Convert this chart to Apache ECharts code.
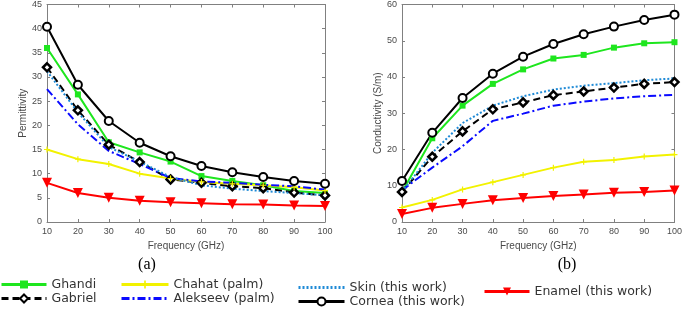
<!DOCTYPE html>
<html>
<head>
<meta charset="utf-8">
<title>Permittivity / Conductivity</title>
<script src="https://cdn.jsdelivr.net/npm/echarts@6/dist/echarts.min.js"></script>
<style>
    html, body { margin: 0; padding: 0; background: #fff; }
    #main { width: 685px; height: 309px; }
</style>
</head>
<body>
<div id="main"></div>
<script>
var freq = [10, 20, 30, 40, 50, 60, 70, 80, 90, 100];
var names = ['Ghandi', 'Gabriel', 'Chahat (palm)', 'Alekseev (palm)', 'Skin (this work)', 'Cornea (this work)', 'Enamel (this work)'];

// (a) permittivity
var permGhandi = [36.0, 26.4, 16.5, 14.4, 12.5, 9.5, 8.5, 7.6, 6.4, 6.0];
var permGabriel = [32.0, 23.1, 16.0, 12.4, 8.8, 8.1, 7.4, 7.0, 6.1, 5.5];
var permChahat = [15.0, 13.0, 12.0, 10.0, 9.0, 8.3, 7.9, 7.6, 7.2, 6.5];
var permAlekseev = [27.5, 20.2, 14.7, 12.0, 9.1, 8.4, 8.1, 7.7, 7.4, 6.7];
var permSkin = [31.2, 22.7, 15.5, 12.5, 9.3, 7.6, 6.9, 6.4, 6.0, 5.5];
var permCornea = [40.4, 28.4, 20.9, 16.4, 13.6, 11.6, 10.3, 9.3, 8.5, 7.9];
var permEnamel = [8.1, 6.0, 5.0, 4.4, 4.1, 3.9, 3.65, 3.6, 3.4, 3.3];

// (b) conductivity
var condGhandi = [8.3, 23.1, 32.1, 38.1, 42.1, 45.1, 46.1, 48.1, 49.3, 49.6];
var condGabriel = [8.3, 18.0, 25.0, 31.1, 33.0, 35.0, 36.0, 37.1, 38.1, 38.6];
var condChahat = [4.0, 6.1, 9.0, 11.0, 13.0, 15.0, 16.6, 17.1, 18.1, 18.6];
var condAlekseev = [8.8, 15.0, 20.9, 27.9, 29.9, 32.1, 33.2, 34.1, 34.7, 35.1];
var condSkin = [8.3, 19.1, 27.3, 32.1, 34.7, 36.5, 37.6, 38.3, 39.1, 39.6];
var condCornea = [11.3, 24.6, 34.2, 40.9, 45.6, 49.1, 51.8, 53.9, 55.7, 57.2];
var condEnamel = [2.2, 3.9, 5.0, 6.0, 6.6, 7.2, 7.6, 8.1, 8.3, 8.7];

var plusPath = 'path://M4,0h2v4h4v2h-4v4h-2v-4h-4v-2h4z';

var styles = {
    'Ghandi': { color: '#1ee61e', type: 'solid', symbol: 'rect', size: 6, fill: '#1ee61e', border: 0, rotate: 0 },
    'Gabriel': { color: '#000000', type: [7, 4], symbol: 'diamond', size: 8, fill: '#ffffff', border: 2.5, rotate: 0 },
    'Chahat (palm)': { color: '#f2f200', type: 'solid', symbol: plusPath, size: 6, fill: '#f2f200', border: 0, rotate: 0 },
    'Alekseev (palm)': { color: '#0a0aff', type: [8, 3, 2, 3], symbol: 'none', size: 0, fill: '#0a0aff', border: 0, rotate: 0 },
    'Skin (this work)': { color: '#1f8ad6', type: [2, 2], symbol: 'none', size: 0, fill: '#1f8ad6', border: 0, rotate: 0 },
    'Cornea (this work)': { color: '#000000', type: 'solid', symbol: 'circle', size: 8, fill: '#ffffff', border: 2, rotate: 0 },
    'Enamel (this work)': { color: '#ff0000', type: 'solid', symbol: 'triangle', size: 10, fill: '#ff0000', border: 0, rotate: 180 }
};

function pairs(ys) {
    var out = [];
    for (var i = 0; i < freq.length; i++) {
        out.push([freq[i], ys[i]]);
    }
    return out;
}

function makeSeries(name, ys, idx) {
    var s = styles[name];
    return {
        name: name,
        type: 'line',
        xAxisIndex: idx,
        yAxisIndex: idx,
        data: pairs(ys),
        symbol: s.symbol,
        symbolSize: s.size,
        symbolRotate: s.rotate,
        showAllSymbol: true,
        animation: false,
        lineStyle: { color: s.color, width: 2, type: s.type },
        itemStyle: { color: s.fill, borderColor: s.color, borderWidth: s.border }
    };
}

var axisGray = '#808080';
var labelGray = '#4a4a4a';

function xAxisFor(idx, top) {
    return {
        type: 'value',
        gridIndex: idx,
        position: top ? 'top' : 'bottom',
        min: 10, max: 100, interval: 10,
        name: top ? '' : 'Frequency (GHz)',
        nameLocation: 'middle',
        nameGap: 19,
        nameTextStyle: { fontFamily: 'Liberation Sans', fontSize: 10, color: labelGray },
        axisLine: { show: true, onZero: false, lineStyle: { color: axisGray, width: 1 } },
        axisTick: { show: true, inside: true, length: 3, lineStyle: { color: axisGray } },
        axisLabel: { show: !top, fontFamily: 'Liberation Sans', fontSize: 9, color: labelGray, margin: 5 },
        splitLine: { show: false }
    };
}

function yAxisFor(idx, right, max, interval, name) {
    return {
        type: 'value',
        gridIndex: idx,
        position: right ? 'right' : 'left',
        min: 0, max: max, interval: interval,
        name: right ? '' : name,
        nameLocation: 'middle',
        nameGap: 19,
        nameTextStyle: { fontFamily: 'Liberation Sans', fontSize: 10, color: labelGray },
        axisLine: { show: true, onZero: false, lineStyle: { color: axisGray, width: 1 } },
        axisTick: { show: true, inside: true, length: 3, lineStyle: { color: axisGray } },
        axisLabel: { show: !right, fontFamily: 'Liberation Sans', fontSize: 9, color: labelGray, margin: 5 },
        splitLine: { show: false }
    };
}

function legendFor(list, left, top, w) {
    var data = [];
    for (var i = 0; i < list.length; i++) {
        if (styles[list[i]].symbol == 'none') {
            data.push({ name: list[i], itemStyle: { opacity: 0 } });
        } else {
            data.push({ name: list[i] });
        }
    }
    return {
        data: data,
        left: left,
        top: top,
        orient: 'vertical',
        itemWidth: w,
        itemHeight: 10,
        itemGap: 1,
        padding: 0,
        selectedMode: false,
        lineStyle: { width: 3 },
        textStyle: { fontFamily: 'DejaVu Sans', fontSize: 12.5, color: '#333' }
    };
}

var chart = echarts.init(document.getElementById('main'));

var series = [];
var permList = [permGhandi, permGabriel, permChahat, permAlekseev, permSkin, permCornea, permEnamel];
var condList = [condGhandi, condGabriel, condChahat, condAlekseev, condSkin, condCornea, condEnamel];
for (var i = 0; i < names.length; i++) {
    series.push(makeSeries(names[i], permList[i], 0));
}
for (var j = 0; j < names.length; j++) {
    series.push(makeSeries(names[j], condList[j], 1));
}

var option = {
    backgroundColor: '#fff',
    animation: false,
    grid: [
        { left: 47, top: 4, width: 278, height: 218 },
        { left: 402, top: 4, width: 276, height: 218 }
    ],
    xAxis: [xAxisFor(0, false), xAxisFor(1, false), xAxisFor(0, true), xAxisFor(1, true)],
    yAxis: [
        yAxisFor(0, false, 45, 5, 'Permittivity'),
        yAxisFor(1, false, 60, 10, 'Conductivity (S/m)'),
        yAxisFor(0, true, 45, 5, ''),
        yAxisFor(1, true, 60, 10, '')
    ],
    legend: [
        legendFor(['Ghandi', 'Gabriel'], 0, 278, 45),
        legendFor(['Chahat (palm)', 'Alekseev (palm)'], 120, 278, 47),
        legendFor(['Skin (this work)', 'Cornea (this work)'], 297, 281, 46),
        legendFor(['Enamel (this work)'], 483, 285, 45)
    ],
    graphic: [
        { type: 'text', x: 147, y: 265, style: { text: '(a)', fontFamily: 'Liberation Serif', fontSize: 16, fill: '#000', textAlign: 'center', textVerticalAlign: 'middle' } },
        { type: 'text', x: 567, y: 265, style: { text: '(b)', fontFamily: 'Liberation Serif', fontSize: 16, fill: '#000', textAlign: 'center', textVerticalAlign: 'middle' } }
    ],
    series: series
};
chart.setOption(option);
</script>
</body>
</html>
